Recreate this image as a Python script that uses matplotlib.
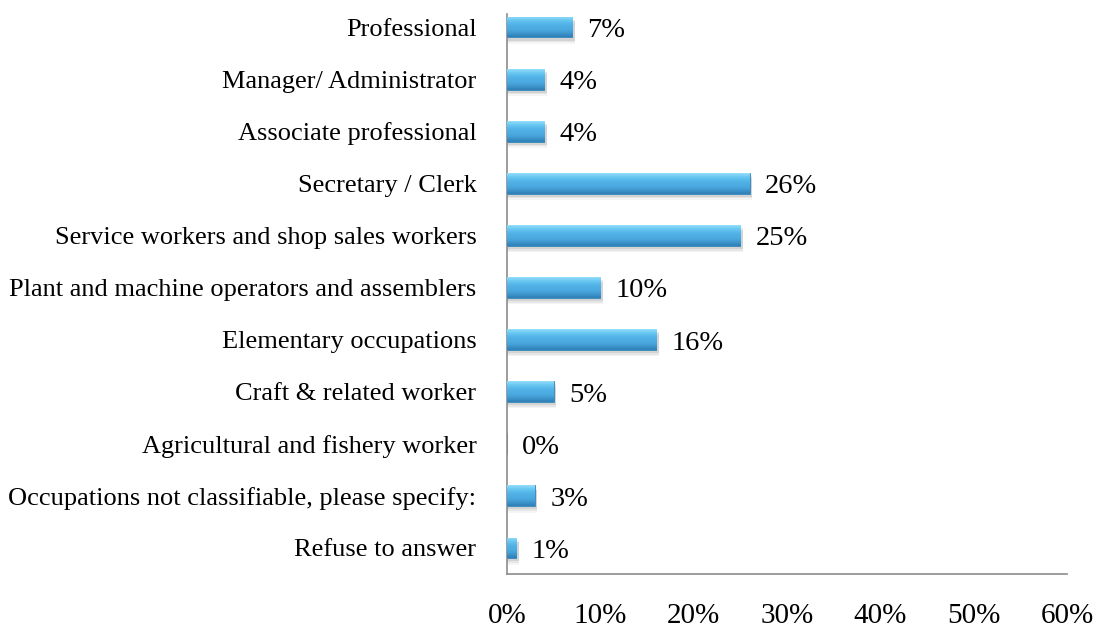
"""
Horizontal bar chart of respondents' occupations.
"""

import numpy as np
import matplotlib.pyplot as plt
from matplotlib.colors import LinearSegmentedColormap
from matplotlib.ticker import FuncFormatter

occupations = [
    'Professional',
    'Manager/ Administrator',
    'Associate professional',
    'Secretary / Clerk',
    'Service workers and shop sales workers',
    'Plant and machine operators and assemblers',
    'Elementary occupations',
    'Craft & related worker',
    'Agricultural and fishery worker',
    'Occupations not classifiable, please specify:',
    'Refuse to answer',
]
shares = [7, 4, 4, 26, 25, 10, 16, 5, 0, 3, 1]
x_ticks = [0, 10, 20, 30, 40, 50, 60]

plt.rcParams['font.family'] = ['Liberation Serif', 'DejaVu Serif']

fig = plt.figure(figsize=(11.02, 6.28), dpi=100)
ax = fig.add_axes([507 / 1102, 1 - 574 / 628, 560 / 1102, 573 / 628])

ypos = list(range(len(occupations)))
height = 0.40

# soft drop shadow under each bar
for off, a in [(0.12, 0.08), (0.09, 0.12), (0.06, 0.18)]:
    ax.barh([y + off for y in ypos], [s + 0.2 if s else 0 for s in shares],
            height=height, left=0.05, color='#808080', alpha=a, linewidth=0, zorder=1)

bars = ax.barh(ypos, shares, height=height, color='#4aaee0', edgecolor='#3385ba',
               linewidth=0.6, zorder=2)

# vertical gradient for the bevelled look, clipped to each bar
bevel = LinearSegmentedColormap.from_list(
    'bevel', ['#95def9', '#6ccaf2', '#56b8ea', '#4eaee4', '#4aa8df', '#3d95cc', '#2f7fb6'])
grad = np.linspace(0, 1, 64).reshape(-1, 1)
for bar, s in zip(bars, shares):
    if s == 0:
        continue
    x0, y0 = bar.get_x(), bar.get_y()
    im = ax.imshow(grad, cmap=bevel, aspect='auto', interpolation='bilinear',
                   extent=(x0, x0 + bar.get_width(), y0 + bar.get_height(), y0),
                   zorder=3)
    im.set_clip_path(bar)

for y, s in zip(ypos, shares):
    ax.annotate(f'{s}%', (s, y), xytext=(11, -2.5), textcoords='offset points',
                va='center', ha='left', fontsize=20.5)

ax.set_xlim(0, 60)
ax.set_ylim(len(occupations) - 0.5, -0.5)
ax.set_xticks(x_ticks)
ax.xaxis.set_major_formatter(FuncFormatter(lambda v, p: f'{v:.0f}%'))
ax.set_yticks(ypos)
ax.set_yticklabels(occupations)
ax.tick_params(axis='y', length=0, pad=22, labelsize=19)
ax.tick_params(axis='x', length=0, pad=21, labelsize=21)

for side in ['top', 'right']:
    ax.spines[side].set_visible(False)
for side in ['left', 'bottom']:
    ax.spines[side].set_color('#8c8c8c')
    ax.spines[side].set_linewidth(1.2)
ax.spines['left'].set_bounds(len(occupations) - 0.5, -0.25)

fig.savefig('out.png', dpi=100)
